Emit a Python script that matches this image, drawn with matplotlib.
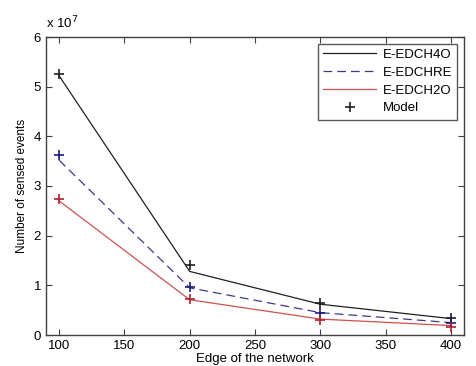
import matplotlib
matplotlib.use("Agg")
import matplotlib.pyplot as plt
import numpy as np

edges = [100, 200, 300, 400]
# values in units of 1e7
e40_line = [5.22, 1.28, 0.62, 0.33]
ere_line = [3.52, 0.95, 0.45, 0.25]
e20_line = [2.70, 0.71, 0.32, 0.19]
e40_model = [5.25, 1.41, 0.65, 0.35]
ere_model = [3.62, 0.96, 0.44, 0.24]
e20_model = [2.73, 0.72, 0.31, 0.17]
scale = 1e7

plt.rcParams['font.family'] = ['Liberation Sans', 'DejaVu Sans']
fig = plt.figure(figsize=(4.76, 3.66), dpi=100)
ax = fig.add_axes([46/476, 1-335/366, (464-46)/476, (335-37)/366])

s = lambda v: np.array(v) * scale
ax.plot(edges, s(e40_line), color='#202020', lw=0.9, label='E-EDCH4O')
ax.plot(edges, s(ere_line), color='#3a3a8a', lw=0.9, ls=(0, (7, 4)), label='E-EDCHRE')
ax.plot(edges, s(e20_line), color='#d05050', lw=0.9, label='E-EDCH2O')
ax.plot(edges, s(e40_model), ls='none', marker='+', ms=7, mew=1.2, color='#202020', label='Model')
ax.plot(edges, s(ere_model), ls='none', marker='+', ms=7, mew=1.2, color='#1a1a80')
ax.plot(edges, s(e20_model), ls='none', marker='+', ms=7, mew=1.2, color='#b02030')

ax.set_xlim(90, 410)
ax.set_ylim(0, 6 * scale)
ax.set_xticks([100, 150, 200, 250, 300, 350, 400])
ax.set_yticks(np.arange(0, 7) * scale)
ax.set_yticklabels([str(i) for i in range(7)])
ax.tick_params(direction='in', top=True, right=True, labelsize=9.5, length=4, width=0.8, color='#404040')
for sp in ax.spines.values():
    sp.set_color('#404040')
    sp.set_linewidth(1.0)

ax.set_xlabel('Edge of the network', fontsize=9.5, labelpad=1)
ax.set_ylabel('Number of sensed events', fontsize=8.5, labelpad=4)
fig.text(46/476, 1-28/366, 'x 10$^7$', fontsize=9.5, ha='left', va='baseline')

leg = ax.legend(loc='upper right', fontsize=9.5, frameon=True, fancybox=False,
                edgecolor='#303030', borderaxespad=0.5, handlelength=4.0,
                labelspacing=0.42, borderpad=0.4, handletextpad=0.5)
leg.get_frame().set_linewidth(1.0)

fig.savefig('out.png', dpi=100)
